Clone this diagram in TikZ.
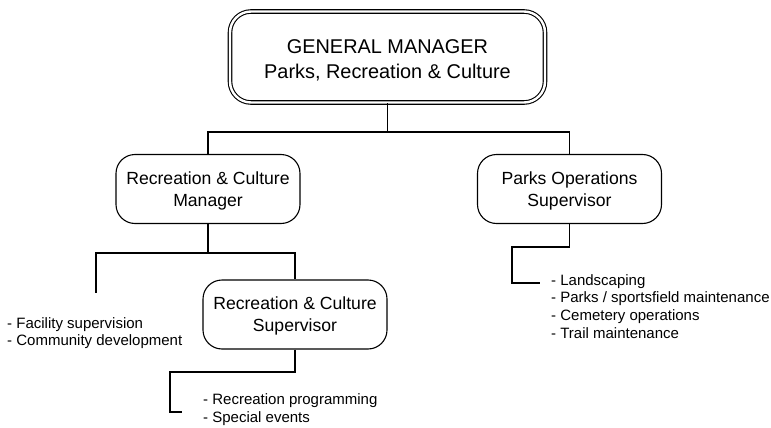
\documentclass[tikz,border=0pt]{standalone}
\usepackage{fontspec}
\setmainfont{Liberation Sans}
\usepackage{tikz}

\tikzset{
  post/.style={draw,line width=1.1pt,rounded corners=19pt,align=center,
    minimum width=184pt,minimum height=69pt,inner sep=0pt,
    font=\fontsize{17.6}{22}\selectfont},
  duties/.style={align=left,anchor=north west,inner sep=0pt,
    font=\fontsize{15}{17.7}\selectfont},
  link/.style={line width=1.1pt}
}

\begin{document}
\begin{tikzpicture}[x=1pt,y=-1pt]
\useasboundingbox (0,0) rectangle (771,428);
% boxes
\node[post,double,double distance=2.4pt,rounded corners=21pt,minimum width=315pt,
  minimum height=91pt,font=\fontsize{19.9}{25}\selectfont] (gm) at (387.5,57)
  {\rule{0pt}{20pt}GENERAL MANAGER\\Parks, Recreation \& Culture};
\node[post] (rcm) at (208,189) {\rule{0pt}{16.5pt}Recreation \& Culture\\Manager};
\node[post] (pos) at (569.5,189) {\rule{0pt}{16.5pt}Parks Operations\\Supervisor};
\node[post] (rcs) at (295,314.5) {\rule{0pt}{16.5pt}Recreation \& Culture\\Supervisor};
% duty lists
\node[duties] (fac) at (7,317) {- Facility supervision\\- Community development};
\node[duties] (rec) at (203,393.5) {- Recreation programming\\- Special events};
\node[duties] (prk) at (551,274) {- Landscaping\\- Parks / sportsfield maintenance\\- Cemetery operations\\- Trail maintenance};
% joints
\coordinate (j1) at (387.5,132);
\coordinate (j2) at (208,253);
\coordinate (fe) at (96,293);
\coordinate (j3) at (295,372);
\coordinate (c3) at (170,412);
\coordinate (e3) at (182,412);
\coordinate (j4) at (569.5,247);
\coordinate (c4) at (512,283);
\coordinate (e4) at (540,283);
% connectors
\draw[link] (gm.south) -- (j1) -| (rcm.north);
\draw[link] (j1) -| (pos.north);
\draw[link] (rcm.south) -- (j2) -| (rcs.north);
\draw[link] (j2) -| (fe);
\draw[link] (rcs.south) -- (j3) -| (c3) -- (e3);
\draw[link] (pos.south) -- (j4) -| (c4) -- (e4);
\end{tikzpicture}
\end{document}
